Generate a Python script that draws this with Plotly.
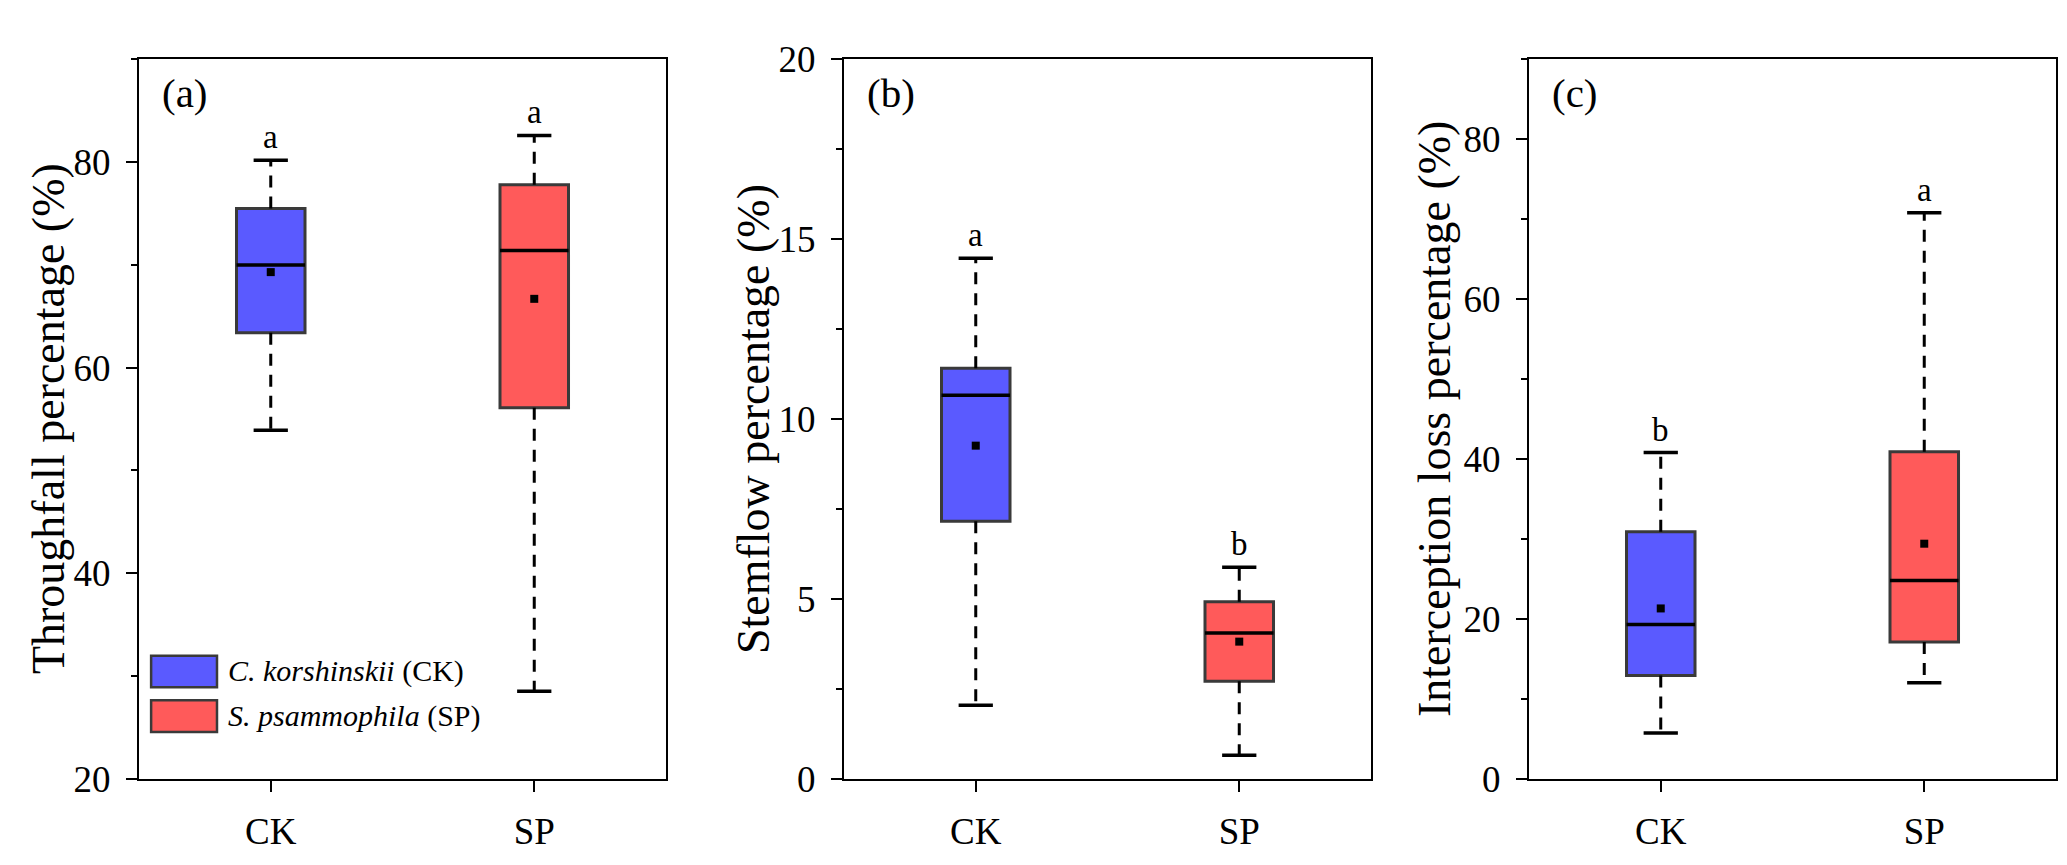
import plotly.graph_objects as go

groups = ["CK", "SP"]
box_colors = ["#5a5aff", "#ff5a5a"]

# (a) throughfall
tf_lo = [53.9, 28.5]
tf_q1 = [63.4, 56.1]
tf_med = [70.0, 71.4]
tf_q3 = [75.5, 77.8]
tf_hi = [80.2, 82.6]
tf_mean = [69.3, 66.7]
tf_letters = ["a", "a"]

# (b) stemflow
sf_lo = [2.04, 0.65]
sf_q1 = [7.16, 2.71]
sf_med = [10.66, 4.05]
sf_q3 = [11.41, 4.92]
sf_hi = [14.47, 5.88]
sf_mean = [9.26, 3.81]
sf_letters = ["a", "b"]

# (c) interception loss
il_lo = [5.7, 12.0]
il_q1 = [12.9, 17.1]
il_med = [19.3, 24.8]
il_q3 = [30.9, 40.9]
il_hi = [40.8, 70.8]
il_mean = [21.3, 29.4]
il_letters = ["b", "a"]

FONT = "Liberation Serif, Times New Roman, serif"
W, H = 2067, 865
BOX_W = 0.26
CAP_W = 0.13

panels = [
    dict(lo=tf_lo, q1=tf_q1, med=tf_med, q3=tf_q3, hi=tf_hi, mean=tf_mean, letters=tf_letters,
         yrange=[20, 90], dtick=20, minor=10, tick0=20, label="(a)",
         title="Throughfall percentage (%)", dom=[131, 658], title_x=40),
    dict(lo=sf_lo, q1=sf_q1, med=sf_med, q3=sf_q3, hi=sf_hi, mean=sf_mean, letters=sf_letters,
         yrange=[0, 20], dtick=5, minor=2.5, tick0=0, label="(b)",
         title="Stemflow percentage (%)", dom=[836, 1363], title_x=745),
    dict(lo=il_lo, q1=il_q1, med=il_med, q3=il_q3, hi=il_hi, mean=il_mean, letters=il_letters,
         yrange=[0, 90], dtick=20, minor=10, tick0=0, label="(c)",
         title="Interception loss percentage (%)", dom=[1521, 2048], title_x=1426),
]

fig = go.Figure()
annotations = []
shapes = []
y_dom = [(H - 788) / H, (H - 33) / H]
xs = [0, 1]

for k, p in enumerate(panels):
    n = "" if k == 0 else str(k + 1)
    xa, ya = "x" + n, "y" + n

    # dashed whiskers
    wx, wy = [], []
    for i in range(2):
        wx += [xs[i], xs[i], None, xs[i], xs[i], None]
        wy += [p["q3"][i], p["hi"][i], None, p["q1"][i], p["lo"][i], None]
    fig.add_trace(go.Scatter(x=wx, y=wy, mode="lines", xaxis=xa, yaxis=ya,
                             line=dict(color="black", width=3, dash="12px,9px"),
                             showlegend=False, hoverinfo="skip"))
    # boxes
    fig.add_trace(go.Bar(x=xs, y=[p["q3"][i] - p["q1"][i] for i in range(2)], base=p["q1"],
                         width=BOX_W, xaxis=xa, yaxis=ya, showlegend=False,
                         marker=dict(color=box_colors, line=dict(color="#3a3a3a", width=3))))
    # caps and medians
    cx, cy = [], []
    for i in range(2):
        for v in (p["hi"][i], p["lo"][i]):
            cx += [xs[i] - CAP_W / 2, xs[i] + CAP_W / 2, None]
            cy += [v, v, None]
        cx += [xs[i] - BOX_W / 2, xs[i] + BOX_W / 2, None]
        cy += [p["med"][i], p["med"][i], None]
    fig.add_trace(go.Scatter(x=cx, y=cy, mode="lines", xaxis=xa, yaxis=ya,
                             line=dict(color="black", width=3.5),
                             showlegend=False, hoverinfo="skip"))
    # means
    fig.add_trace(go.Scatter(x=xs, y=p["mean"], mode="markers", xaxis=xa, yaxis=ya,
                             marker=dict(symbol="square", size=8, color="black"),
                             showlegend=False))

    dom = [p["dom"][0] / W, p["dom"][1] / W]
    axis_common = dict(showline=True, linecolor="black", linewidth=2, mirror=True,
                       ticks="outside", tickcolor="black", tickwidth=2, ticklen=11,
                       showgrid=False, zeroline=False,
                       tickfont=dict(family=FONT, size=37, color="black"))
    fig.layout["xaxis" + n] = dict(axis_common, domain=dom, range=[-0.5, 1.5],
                                   tickvals=xs, ticktext=groups, anchor=ya,
                                   ticklabelstandoff=8)
    fig.layout["yaxis" + n] = dict(axis_common, domain=y_dom, range=p["yrange"],
                                   tick0=p["tick0"], dtick=p["dtick"], anchor=xa,
                                   ticklabelstandoff=8,
                                   minor=dict(ticks="outside", ticklen=6, tickwidth=2,
                                              tickcolor="black", dtick=p["minor"],
                                              tick0=p["tick0"]))

    # significance letters
    for i in range(2):
        annotations.append(dict(x=xs[i], y=p["hi"][i], xref=xa, yref=ya, text=p["letters"][i],
                                showarrow=False, yanchor="bottom", yshift=3,
                                font=dict(family=FONT, size=33, color="black")))
    # panel label
    annotations.append(dict(x=0.04, y=0.953, xref=xa + " domain", yref=ya + " domain",
                            text=p["label"], showarrow=False, xanchor="left", yanchor="middle",
                            font=dict(family=FONT, size=41, color="black")))
    # y title
    annotations.append(dict(x=p["title_x"] / W, y=(y_dom[0] + y_dom[1]) / 2, xref="paper",
                            yref="paper", text=p["title"], textangle=-90, showarrow=False,
                            xanchor="center", yanchor="middle",
                            font=dict(family=FONT, size=46, color="black")))

# legend in panel (a)
leg_names = ["<i>C. korshinskii</i> (CK)", "<i>S. psammophila</i> (SP)"]
leg_y = [(0.127, 0.171), (0.065, 0.109)]
for j in range(2):
    shapes.append(dict(type="rect", xref="x domain", yref="y domain",
                       x0=0.023, x1=0.148, y0=leg_y[j][0], y1=leg_y[j][1],
                       fillcolor=box_colors[j], line=dict(color="#3a3a3a", width=2.5)))
    annotations.append(dict(x=0.165, y=(leg_y[j][0] + leg_y[j][1]) / 2, xref="x domain",
                            yref="y domain", text=leg_names[j], showarrow=False,
                            xanchor="left", yanchor="middle",
                            font=dict(family=FONT, size=30, color="black")))

fig.update_layout(width=W, height=H, margin=dict(l=0, r=0, t=0, b=0),
                  plot_bgcolor="white", paper_bgcolor="white",
                  annotations=annotations, shapes=shapes, showlegend=False)

fig.write_html("out.html")
